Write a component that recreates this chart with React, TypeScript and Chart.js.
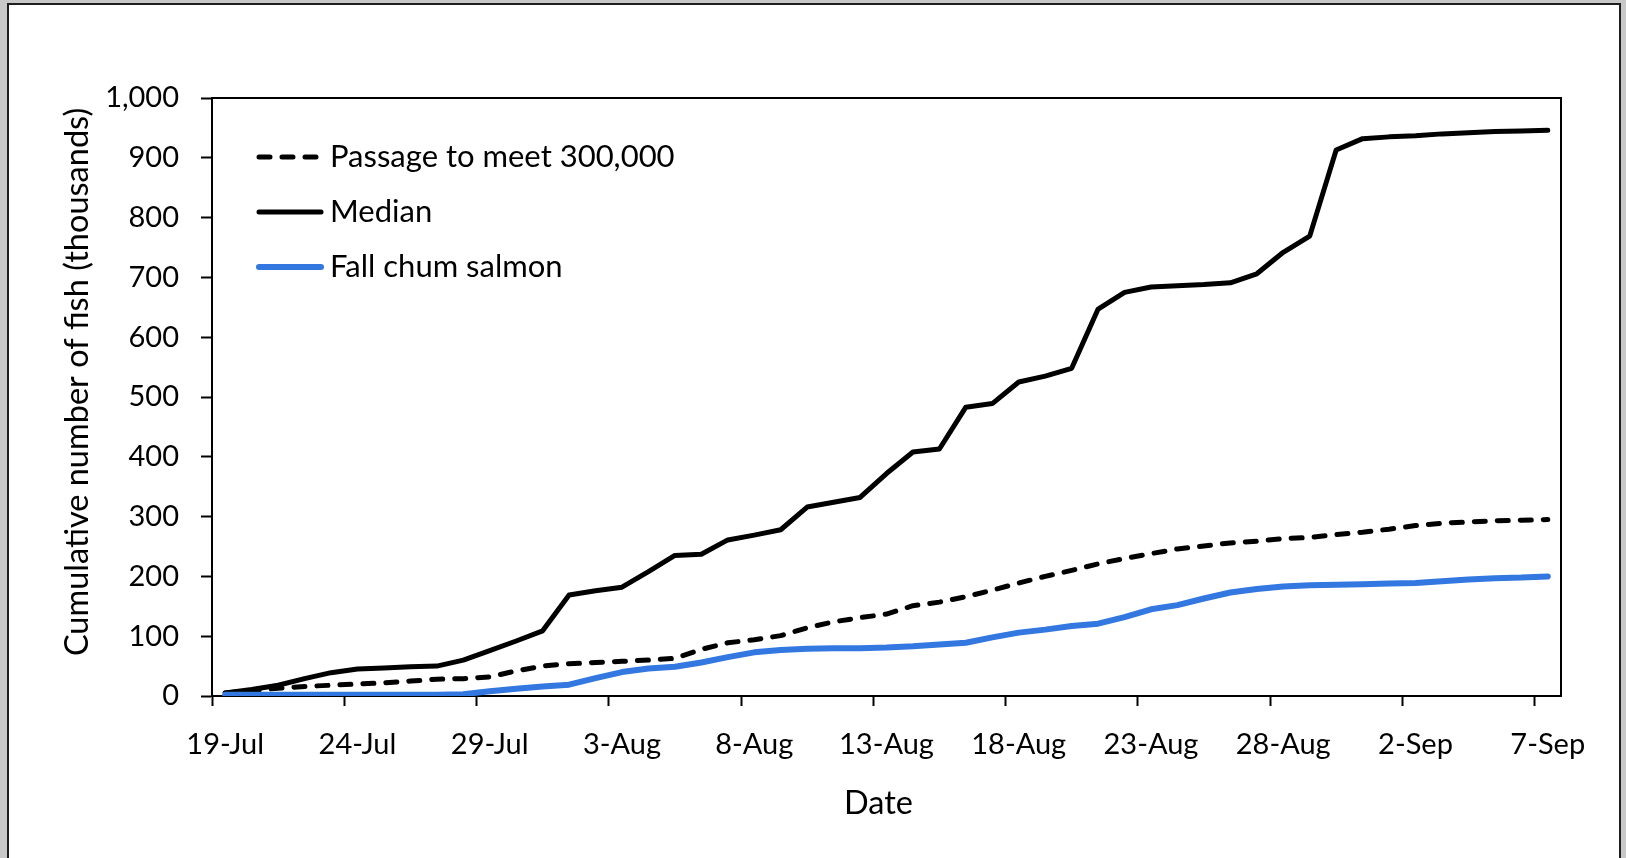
import React, { useEffect, useRef } from 'react';
import { Chart, registerables } from 'chart.js';

Chart.register(...registerables);

// Daily dates (categories)
const dates: string[] = [
  '19-Jul', '20-Jul', '21-Jul', '22-Jul', '23-Jul', '24-Jul', '25-Jul', '26-Jul', '27-Jul', '28-Jul',
  '29-Jul', '30-Jul', '31-Jul', '1-Aug', '2-Aug', '3-Aug', '4-Aug', '5-Aug', '6-Aug', '7-Aug',
  '8-Aug', '9-Aug', '10-Aug', '11-Aug', '12-Aug', '13-Aug', '14-Aug', '15-Aug', '16-Aug', '17-Aug',
  '18-Aug', '19-Aug', '20-Aug', '21-Aug', '22-Aug', '23-Aug', '24-Aug', '25-Aug', '26-Aug', '27-Aug',
  '28-Aug', '29-Aug', '30-Aug', '31-Aug', '1-Sep', '2-Sep', '3-Sep', '4-Sep', '5-Sep', '6-Sep',
  '7-Sep',
];

// Cumulative number of fish (thousands)
const passage: number[] = [
  5, 9, 13, 16, 18, 20, 22, 25, 28, 29,
  32, 42, 50, 54, 56, 58, 60, 63, 78, 89,
  94, 101, 114, 124, 131, 137, 151, 157, 166, 177,
  189, 200, 210, 221, 230, 238, 246, 251, 256, 259,
  263, 265, 270, 274, 279, 285, 289, 291, 293, 294,
  295,
];

const median: number[] = [
  5, 11, 18, 29, 39, 45, 47, 49, 50, 60,
  76, 92, 109, 169, 176, 182, 208, 235, 237, 261,
  269, 278, 316, 324, 332, 372, 408, 413, 483, 489,
  525, 535, 548, 647, 675, 684, 686, 688, 691, 706,
  742, 769, 913, 932, 935, 937, 940, 942, 944, 945,
  946,
];

const fallChum: number[] = [
  2, 2, 2, 2, 2, 2, 2, 2, 2, 3,
  8, 12, 16, 19, 30, 40, 46, 49, 56, 65,
  73, 77, 79, 80, 80, 81, 83, 86, 89, 98,
  106, 111, 117, 121, 132, 145, 152, 163, 173, 179,
  183, 185, 186, 187, 188, 189, 192, 195, 197, 198,
  200,
];

const seriesLabels = ['Passage to meet 300,000', 'Median', 'Fall chum salmon'];
const yAxisTitle = 'Cumulative number of fish (thousands)';
const xAxisTitle = 'Date';

const FONT = 'Lato, "Open Sans", sans-serif';
const FS = 29;
const FS_LEGEND = 31;
const FS_TITLE = 32.5;

const decorPlugin = {
  id: 'decor',
  afterDraw(chart: any) {
    const { ctx, chartArea: a } = chart;
    ctx.save();
    // top & right frame of plot area
    ctx.strokeStyle = '#000';
    ctx.lineWidth = 2;
    ctx.beginPath();
    ctx.moveTo(a.left, a.top);
    ctx.lineTo(a.right, a.top);
    ctx.lineTo(a.right, a.bottom);
    ctx.stroke();

    // axis titles
    ctx.fillStyle = '#000';
    ctx.font = `${FS_TITLE}px ${FONT}`;
    ctx.textAlign = 'center';
    ctx.textBaseline = 'alphabetic';
    ctx.fillText(xAxisTitle, (a.left + a.right) / 2 - 8, 814);
    ctx.save();
    ctx.translate(88, 382);
    ctx.rotate(-Math.PI / 2);
    ctx.fillText(yAxisTitle, 0, 0);
    ctx.restore();

    // legend inside plot area
    const ds = chart.data.datasets;
    ctx.font = `${FS_LEGEND}px ${FONT}`;
    ctx.textAlign = 'left';
    for (let i = 0; i < ds.length; i++) {
      const d = ds[i];
      const base = a.top + 69 + i * 55;
      const ly = base - 10;
      ctx.save();
      ctx.strokeStyle = d.borderColor;
      ctx.lineWidth = d.borderWidth;
      ctx.lineCap = 'round';
      ctx.setLineDash(d.borderDash || []);
      ctx.beginPath();
      ctx.moveTo(a.left + 47, ly);
      ctx.lineTo(a.left + 109, ly);
      ctx.stroke();
      ctx.restore();
      ctx.fillText(d.label, a.left + 118, base);
    }
    ctx.restore();
  },
};

export default function App() {
  const ref = useRef<HTMLCanvasElement | null>(null);

  useEffect(() => {
    if (!ref.current) return;
    const chart = new Chart(ref.current, {
      type: 'line',
      data: {
        labels: dates,
        datasets: [
          {
            label: seriesLabels[0],
            data: passage,
            borderColor: '#000',
            borderWidth: 5,
            borderDash: [11, 12],
            borderCapStyle: 'round',
            borderJoinStyle: 'round',
            pointRadius: 0,
            tension: 0,
            fill: false,
            order: 2,
          },
          {
            label: seriesLabels[1],
            data: median,
            borderColor: '#000',
            borderWidth: 5,
            borderCapStyle: 'round',
            borderJoinStyle: 'round',
            pointRadius: 0,
            tension: 0,
            fill: false,
            order: 1,
          },
          {
            label: seriesLabels[2],
            data: fallChum,
            borderColor: '#3377E0',
            borderWidth: 6,
            borderCapStyle: 'round',
            borderJoinStyle: 'round',
            pointRadius: 0,
            tension: 0,
            fill: false,
            order: 0,
          },
        ],
      },
      options: {
        responsive: false,
        animation: false,
        layout: { padding: { left: 0, right: 65, top: 98, bottom: 0 } },
        plugins: {
          legend: { display: false },
          tooltip: { enabled: false },
          title: { display: false },
        },
        scales: {
          x: {
            type: 'category',
            offset: true,
            display: false,
          },
          xd: {
            type: 'linear',
            position: 'bottom',
            min: 0,
            max: 51,
            afterFit: (s: any) => {
              s.height = 162;
            },
            ticks: {
              stepSize: 5,
              includeBounds: false,
              autoSkip: false,
              maxRotation: 0,
              padding: 21,
              labelOffset: 13.2,
              color: '#000',
              font: { family: FONT, size: FS },
              callback: (v: any) => dates[Number(v)] ?? '',
            },
            grid: {
              drawOnChartArea: false,
              drawTicks: true,
              tickLength: 10,
              tickWidth: 2,
              tickColor: '#000',
            },
            border: { display: true, color: '#000', width: 2 },
          },
          y: {
            type: 'linear',
            min: 0,
            max: 1000,
            afterFit: (s: any) => {
              s.width = 212;
            },
            ticks: {
              stepSize: 100,
              padding: 22,
              color: '#000',
              font: { family: FONT, size: FS },
              callback: (v: any) => Number(v).toLocaleString('en-US'),
            },
            grid: {
              drawOnChartArea: false,
              drawTicks: true,
              tickLength: 11,
              tickWidth: 2,
              tickColor: '#000',
            },
            border: { display: true, color: '#000', width: 2 },
          },
        },
      } as any,
      plugins: [decorPlugin],
    });
    return () => chart.destroy();
  }, []);

  return (
    <div
      style={{
        position: 'fixed',
        left: 0,
        top: 0,
        width: 1626,
        height: 858,
        background: '#c8c8c8',
        overflow: 'hidden',
      }}
    >
      <div
        style={{
          position: 'absolute',
          left: 7,
          top: 3,
          width: 1614,
          height: 900,
          boxSizing: 'border-box',
          border: '2px solid #1e1e1e',
          background: '#fff',
        }}
      />
      <canvas
        ref={ref}
        width={1626}
        height={858}
        style={{ position: 'absolute', left: 0, top: 0, width: 1626, height: 858 }}
      />
    </div>
  );
}
